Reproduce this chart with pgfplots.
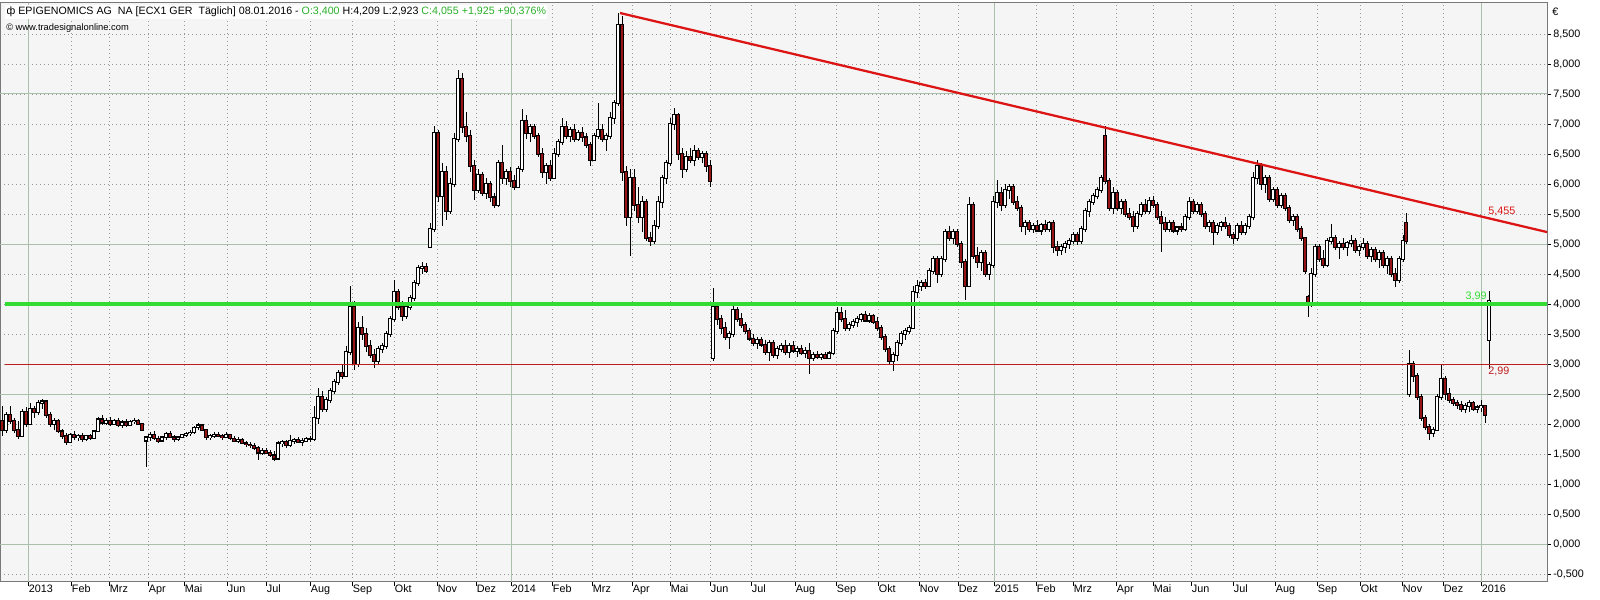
\documentclass[border=0pt]{standalone}
\usepackage{fontspec}
\setmainfont{Liberation Sans}
\usepackage{pgfplots}
\usepackage{pgfplotstable}
\pgfplotsset{compat=1.18}
\definecolor{bg}{RGB}{245,245,245}
\definecolor{gridsolid}{RGB}{170,192,170}
\definecolor{griddot}{RGB}{150,150,150}
\definecolor{bear}{RGB}{150,20,20}
\definecolor{trend}{RGB}{220,20,20}
\definecolor{supp}{RGB}{50,220,50}
\definecolor{resred}{RGB}{190,30,30}
\definecolor{hdrgreen}{RGB}{40,175,40}
\definecolor{frame}{RGB}{120,120,120}

\pgfplotstableread{
x o h l c
2 2.05 2.30 1.80 1.90
6 1.90 2.20 1.85 2.15
10 2.15 2.30 2.00 2.05
14 2.05 2.10 1.85 1.90
18 1.90 2.05 1.75 1.80
22 1.80 2.25 1.78 2.20
26 2.20 2.28 1.95 2.00
30 2.00 2.35 1.98 2.25
34 2.25 2.30 2.10 2.20
38 2.20 2.40 2.15 2.35
42 2.35 2.42 2.25 2.38
46 2.38 2.40 2.10 2.15
50 2.15 2.20 1.95 2.00
54 2.00 2.10 1.90 2.05
58 2.05 2.08 1.85 1.88
62 1.88 1.92 1.75 1.80
66 1.80 1.85 1.65 1.70
70 1.70 1.85 1.68 1.82
74 1.82 1.88 1.74 1.78
78 1.78 1.84 1.72 1.80
82 1.80 1.85 1.70 1.74
86 1.74 1.82 1.72 1.80
90 1.80 1.84 1.74 1.76
94 1.76 1.90 1.75 1.88
98 1.88 2.12 1.86 2.08
102 2.08 2.15 1.98 2.02
106 2.02 2.10 1.98 2.06
110 2.06 2.12 1.96 2.00
114 2.00 2.08 1.98 2.05
118 2.05 2.10 1.95 1.98
122 1.98 2.06 1.94 2.03
126 2.03 2.08 1.95 1.98
130 1.98 2.06 1.96 2.04
134 2.04 2.10 2.00 2.06
138 2.06 2.08 1.98 2.00
142 2.00 2.02 1.88 1.90
146 1.72 1.80 1.29 1.78
150 1.78 1.86 1.72 1.82
154 1.82 1.88 1.74 1.76
158 1.76 1.80 1.68 1.72
162 1.72 1.80 1.70 1.78
166 1.78 1.86 1.74 1.84
170 1.84 1.88 1.76 1.78
174 1.78 1.82 1.70 1.74
178 1.74 1.80 1.72 1.78
182 1.78 1.84 1.76 1.82
186 1.82 1.86 1.78 1.84
190 1.84 1.90 1.80 1.86
194 1.86 1.96 1.84 1.94
198 1.94 2.02 1.90 1.98
202 1.98 2.00 1.88 1.90
206 1.90 1.92 1.74 1.78
210 1.78 1.84 1.74 1.80
214 1.80 1.86 1.76 1.82
218 1.82 1.86 1.78 1.80
222 1.80 1.84 1.74 1.78
226 1.78 1.86 1.76 1.82
230 1.82 1.84 1.74 1.76
234 1.76 1.80 1.70 1.72
238 1.72 1.78 1.68 1.74
242 1.74 1.76 1.66 1.68
246 1.68 1.72 1.62 1.66
250 1.66 1.70 1.60 1.64
254 1.64 1.68 1.56 1.60
258 1.60 1.64 1.40 1.52
262 1.52 1.60 1.48 1.56
266 1.56 1.60 1.50 1.52
270 1.52 1.56 1.45 1.48
274 1.48 1.55 1.38 1.42
278 1.42 1.72 1.40 1.68
282 1.68 1.74 1.62 1.70
286 1.70 1.74 1.60 1.64
290 1.64 1.82 1.62 1.72
294 1.72 1.76 1.66 1.74
298 1.74 1.78 1.68 1.70
302 1.70 1.76 1.64 1.72
306 1.72 1.78 1.70 1.75
310 1.75 1.80 1.70 1.74
314 1.74 2.30 1.72 2.10
318 2.10 2.60 2.00 2.45
322 2.45 2.55 2.20 2.25
326 2.25 2.45 2.20 2.40
330 2.40 2.60 2.35 2.55
334 2.55 2.75 2.50 2.70
338 2.70 2.90 2.65 2.85
342 2.85 3.00 2.75 2.80
346 2.80 3.30 2.78 3.20
350 3.20 4.30 3.15 3.95
354 3.95 4.05 2.90 3.00
358 3.00 3.70 2.95 3.60
362 3.60 3.80 3.40 3.50
366 3.50 3.60 3.20 3.30
370 3.30 3.40 3.10 3.15
374 3.15 3.25 2.94 3.05
378 3.05 3.30 3.00 3.25
382 3.25 3.35 3.18 3.30
386 3.30 3.55 3.25 3.50
390 3.50 3.80 3.45 3.75
394 3.75 4.40 3.70 4.20
398 4.20 4.25 3.90 3.95
402 3.95 4.05 3.72 3.80
406 3.80 4.00 3.75 3.95
410 3.95 4.15 3.90 4.10
414 4.10 4.40 4.05 4.35
418 4.35 4.65 4.30 4.60
422 4.60 4.70 4.50 4.62
426 4.62 4.68 4.52 4.55
430 4.95 5.35 4.93 5.25
434 5.25 6.97 5.20 6.85
438 6.85 6.90 5.70 5.80
442 5.80 6.35 5.30 6.20
446 6.20 6.30 5.40 5.55
450 5.55 6.10 5.50 6.00
454 6.00 6.85 5.95 6.75
458 6.75 7.90 6.70 7.75
462 7.75 7.85 6.85 6.95
466 6.95 7.20 6.70 6.80
470 6.80 6.90 6.20 6.30
474 6.30 6.40 5.73 5.90
478 5.90 6.25 5.85 6.15
482 6.15 6.20 5.80 5.85
486 5.85 6.10 5.75 6.00
490 6.00 6.05 5.70 5.78
494 5.78 5.85 5.60 5.65
498 5.65 6.40 5.62 6.35
502 6.35 6.65 6.00 6.10
506 6.10 6.25 5.98 6.20
510 6.20 6.28 5.95 6.05
514 6.05 6.15 5.90 5.95
518 5.95 6.30 5.93 6.25
522 6.25 7.25 6.20 7.05
526 7.05 7.15 6.75 6.85
530 6.85 7.00 6.70 6.95
534 6.95 7.00 6.75 6.80
538 6.80 6.85 6.45 6.50
542 6.50 6.60 6.10 6.20
546 6.20 6.35 6.00 6.30
550 6.30 6.40 6.05 6.10
554 6.10 6.60 6.08 6.50
558 6.50 6.75 6.45 6.70
562 6.70 7.10 6.65 6.95
566 6.95 7.05 6.75 6.80
570 6.80 6.95 6.70 6.90
574 6.90 7.00 6.70 6.75
578 6.75 6.90 6.72 6.85
582 6.85 6.95 6.70 6.78
586 6.78 6.85 6.60 6.65
590 6.65 6.70 6.30 6.40
594 6.40 6.85 6.38 6.80
598 6.80 7.35 6.75 6.90
602 6.90 7.00 6.70 6.75
606 6.75 6.85 6.55 6.80
610 6.80 7.20 6.75 7.10
614 7.10 7.40 7.00 7.35
618 7.35 8.85 7.30 8.65
622 8.65 8.80 6.05 6.20
626 6.20 6.30 5.30 5.45
630 5.45 6.25 4.80 6.10
634 6.10 6.25 5.55 5.65
638 5.65 5.95 5.35 5.45
642 5.45 5.80 5.20 5.70
646 5.70 5.75 5.05 5.10
650 5.10 5.20 4.96 5.05
654 5.05 5.40 5.00 5.30
658 5.30 5.80 5.25 5.70
662 5.70 6.15 5.60 6.10
666 6.10 6.40 6.00 6.35
670 6.35 7.10 6.30 7.00
674 7.00 7.26 6.90 7.15
678 7.15 7.18 6.40 6.50
682 6.50 6.60 6.10 6.25
686 6.25 6.55 6.20 6.45
690 6.45 6.60 6.35 6.40
694 6.40 6.65 6.30 6.55
698 6.55 6.60 6.40 6.45
702 6.45 6.55 6.35 6.50
706 6.50 6.55 6.20 6.30
710 6.30 6.40 5.95 6.05
713 3.10 4.26 3.05 3.95
717 3.95 4.00 3.65 3.75
721 3.75 3.82 3.50 3.60
725 3.60 3.70 3.40 3.45
729 3.45 3.55 3.25 3.50
733 3.50 4.00 3.45 3.90
737 3.90 3.95 3.70 3.75
741 3.75 3.85 3.60 3.65
745 3.65 3.70 3.50 3.55
749 3.55 3.60 3.38 3.42
753 3.42 3.50 3.30 3.35
757 3.35 3.45 3.25 3.40
761 3.40 3.45 3.28 3.32
765 3.32 3.40 3.15 3.20
769 3.20 3.40 3.05 3.35
773 3.35 3.40 3.10 3.15
777 3.15 3.30 3.08 3.25
781 3.25 3.35 3.20 3.30
785 3.30 3.40 3.15 3.20
789 3.20 3.35 3.10 3.30
793 3.30 3.38 3.18 3.22
797 3.22 3.30 3.12 3.25
801 3.25 3.32 3.15 3.18
805 3.18 3.28 3.10 3.22
809 3.22 3.35 2.84 3.10
813 3.10 3.20 3.05 3.15
817 3.15 3.22 3.08 3.12
821 3.12 3.18 3.06 3.15
825 3.15 3.20 3.08 3.10
829 3.10 3.22 3.08 3.18
833 3.18 3.60 3.15 3.55
837 3.55 3.95 3.50 3.85
841 3.85 3.95 3.70 3.75
845 3.75 3.90 3.55 3.60
849 3.60 3.70 3.55 3.65
853 3.65 3.75 3.60 3.70
857 3.70 3.80 3.62 3.75
861 3.75 3.85 3.70 3.82
865 3.82 3.88 3.70 3.72
869 3.72 3.85 3.68 3.80
873 3.80 3.84 3.66 3.70
877 3.70 3.78 3.55 3.60
881 3.60 3.65 3.40 3.45
885 3.45 3.50 3.20 3.25
889 3.25 3.30 3.00 3.05
893 3.05 3.20 2.88 3.15
897 3.15 3.40 3.05 3.35
901 3.35 3.55 3.30 3.50
905 3.50 3.60 3.40 3.55
909 3.55 3.65 3.50 3.60
913 3.60 4.30 3.58 4.20
917 4.20 4.40 4.10 4.30
921 4.30 4.40 4.22 4.35
925 4.35 4.42 4.25 4.30
929 4.30 4.60 4.28 4.55
933 4.55 4.80 4.50 4.75
937 4.75 4.80 4.35 4.50
941 4.50 4.80 4.45 4.75
945 4.75 5.25 4.70 5.20
949 5.20 5.30 5.05 5.10
953 5.10 5.25 5.00 5.20
957 5.20 5.25 4.95 5.00
961 5.00 5.05 4.60 4.70
965 4.70 4.75 4.07 4.30
969 4.30 5.79 4.28 5.65
973 5.65 5.70 4.75 4.80
977 4.80 4.95 4.60 4.70
981 4.70 4.90 4.55 4.85
985 4.85 4.90 4.45 4.50
989 4.50 4.70 4.40 4.65
993 4.65 5.80 4.60 5.70
997 5.70 6.07 5.60 5.85
1001 5.85 5.95 5.55 5.65
1005 5.65 6.00 5.60 5.90
1009 5.90 6.00 5.75 5.95
1013 5.95 6.00 5.65 5.70
1017 5.70 5.80 5.55 5.60
1021 5.60 5.65 5.20 5.30
1025 5.30 5.40 5.15 5.35
1029 5.35 5.40 5.20 5.25
1033 5.25 5.35 5.18 5.30
1037 5.30 5.40 5.20 5.22
1041 5.22 5.35 5.15 5.32
1045 5.32 5.40 5.20 5.25
1049 5.25 5.38 5.20 5.35
1053 5.35 5.40 4.85 4.95
1057 4.95 5.05 4.80 4.90
1061 4.90 5.00 4.82 4.95
1065 4.95 5.05 4.85 5.00
1069 5.00 5.10 4.92 5.05
1073 5.05 5.20 5.00 5.15
1077 5.15 5.20 4.98 5.05
1081 5.05 5.30 5.00 5.25
1085 5.25 5.60 5.20 5.55
1089 5.55 5.75 5.45 5.70
1093 5.70 5.85 5.65 5.80
1097 5.80 5.95 5.75 5.90
1101 5.90 6.15 5.85 6.10
1105 6.80 6.96 6.00 6.05
1109 6.05 6.10 5.55 5.60
1113 5.60 5.95 5.50 5.85
1117 5.85 5.90 5.55 5.60
1121 5.60 5.75 5.50 5.70
1125 5.70 5.75 5.45 5.50
1129 5.50 5.60 5.40 5.45
1133 5.45 5.55 5.20 5.30
1137 5.30 5.55 5.25 5.50
1141 5.50 5.70 5.45 5.65
1145 5.65 5.75 5.50 5.55
1149 5.55 5.78 5.50 5.72
1153 5.72 5.80 5.60 5.65
1157 5.65 5.70 5.40 5.45
1161 5.45 5.55 4.87 5.35
1165 5.35 5.45 5.20 5.25
1169 5.25 5.40 5.20 5.35
1173 5.35 5.40 5.18 5.22
1177 5.22 5.30 5.15 5.28
1181 5.28 5.35 5.20 5.25
1185 5.25 5.50 5.22 5.45
1189 5.45 5.78 5.40 5.70
1193 5.70 5.75 5.50 5.55
1197 5.55 5.70 5.50 5.65
1201 5.65 5.70 5.45 5.50
1205 5.50 5.55 5.25 5.30
1209 5.30 5.40 5.20 5.35
1213 5.35 5.40 4.98 5.20
1217 5.20 5.35 5.15 5.30
1221 5.30 5.38 5.22 5.35
1225 5.35 5.45 5.25 5.30
1229 5.30 5.35 5.10 5.15
1233 5.15 5.20 5.00 5.10
1237 5.10 5.35 5.05 5.30
1241 5.30 5.38 5.15 5.20
1245 5.20 5.35 5.15 5.30
1249 5.30 5.50 5.25 5.45
1253 5.45 6.20 5.40 6.10
1257 6.10 6.40 6.00 6.30
1261 6.30 6.35 5.90 6.00
1265 6.00 6.15 5.85 6.10
1269 6.10 6.15 5.70 5.75
1273 5.75 5.95 5.70 5.90
1277 5.90 5.95 5.60 5.65
1281 5.65 5.85 5.60 5.80
1285 5.80 5.85 5.55 5.60
1289 5.60 5.65 5.35 5.40
1293 5.40 5.50 5.30 5.45
1297 5.45 5.50 5.20 5.25
1301 5.25 5.30 5.05 5.10
1305 5.10 5.12 4.50 4.55
1308 4.12 4.15 3.79 3.98
1311 3.98 4.60 3.95 4.50
1315 4.50 5.00 4.45 4.95
1319 4.95 5.00 4.70 4.75
1323 4.75 4.90 4.60 4.65
1327 4.65 5.10 4.62 5.05
1331 5.05 5.34 5.00 5.10
1335 5.10 5.15 4.90 4.95
1339 4.95 5.05 4.75 5.00
1343 5.00 5.10 4.90 4.95
1347 4.95 5.05 4.80 5.02
1351 5.02 5.15 4.95 5.05
1355 5.05 5.10 4.85 4.90
1359 4.90 5.00 4.80 4.95
1363 4.95 5.10 4.90 5.00
1367 5.00 5.05 4.75 4.80
1371 4.80 4.95 4.70 4.90
1375 4.90 4.95 4.70 4.75
1379 4.75 4.90 4.60 4.85
1383 4.85 4.90 4.60 4.65
1387 4.65 4.80 4.50 4.75
1391 4.75 4.80 4.45 4.50
1395 4.50 4.60 4.29 4.40
1399 4.40 4.80 4.35 4.75
1403 4.75 5.15 4.70 5.05
1406 5.35 5.51 5.00 5.05
1409 2.50 3.23 2.45 3.00
1413 3.00 3.05 2.70 2.80
1417 2.80 2.85 2.40 2.45
1421 2.45 2.50 2.05 2.10
1425 2.10 2.15 1.90 1.95
1429 1.95 2.00 1.73 1.85
1433 1.85 1.95 1.78 1.90
1437 1.90 2.50 1.88 2.45
1441 2.45 2.99 2.40 2.75
1445 2.75 2.80 2.40 2.50
1449 2.50 2.60 2.35 2.40
1453 2.40 2.45 2.30 2.35
1457 2.35 2.40 2.25 2.32
1461 2.32 2.38 2.20 2.25
1465 2.25 2.35 2.18 2.30
1469 2.30 2.40 2.20 2.35
1473 2.35 2.38 2.22 2.25
1477 2.25 2.32 2.18 2.28
1481 2.28 2.40 2.20 2.30
1485 2.30 2.32 2.01 2.15
1489 3.40 4.209 2.923 4.055
}\ohlc

\begin{document}
\begin{tikzpicture}[x=0.75pt,y=0.75pt]
\useasboundingbox (0,0) rectangle (1600,600);
\begin{axis}[
  at={(0pt,13.5pt)}, anchor=south west,
  width=1160.25pt, height=434.25pt, scale only axis,
  xmin=0, xmax=1547, ymin=-0.6333, ymax=9.0167,
  axis background/.style={fill=bg},
  axis line style={draw=frame, line width=0.75pt},
  ytick={-0.5,0,...,8.5},
  xtick={28,71,109,148,184,227,266,310,352,394,437,476,511,552,592,632,670,710,751,795,836,878,919,958,994,1036,1073,1116,1153,1191,1233,1275,1317,1360,1402,1443,1481},
  xticklabels={2013,Feb,Mrz,Apr,Mai,Jun,Jul,Aug,Sep,Okt,Nov,Dez,2014,Feb,Mrz,Apr,Mai,Jun,Jul,Aug,Sep,Okt,Nov,Dez,2015,Feb,Mrz,Apr,Mai,Jun,Jul,Aug,Sep,Okt,Nov,Dez,2016},
  extra x ticks={28,511,994,1481},
  extra x tick labels={},
  extra x tick style={xmajorgrids=true, major grid style={solid, draw=gridsolid, line width=0.75pt}, major tick length=0pt},
  extra y ticks={0,2.5,5,7.5},
  extra y tick labels={},
  extra y tick style={ymajorgrids=true, major grid style={solid, draw=gridsolid, line width=0.75pt}, major tick length=0pt},
  xmajorgrids, ymajorgrids,
  major grid style={draw=griddot, line width=0.6pt, dash pattern=on 0.6pt off 2.4pt},
  tick align=outside,
  major tick length=3pt,
  tick style={draw=black, line width=0.5pt},
  xtick pos=bottom, ytick pos=right, yticklabel pos=right,
  /pgf/number format/.cd, fixed, fixed zerofill, precision=3, use comma, 1000 sep={}, assume math mode=true,
  /pgfplots/.cd,
  yticklabel style={font=\fontsize{8.1}{9}\selectfont, anchor=west, inner sep=0pt, xshift=1.5pt},
  xticklabel style={font=\fontsize{8.1}{9}\selectfont, anchor=north west, inner sep=0pt, xshift=0.5pt, yshift=1pt},
  clip=true,
]
% wicks
\addplot[draw=none, mark=none, forget plot,
  error bars/.cd, y dir=both, y explicit, error mark=none,
  error bar style={draw=black, line width=0.75pt}]
  table[x=x, y=c, y error plus expr={\thisrow{h}-\thisrow{c}}, y error minus expr={\thisrow{c}-\thisrow{l}}] {\ohlc};
% body outlines
\addplot[draw=none, mark=none, forget plot,
  error bars/.cd, y dir=both, y explicit, error mark=none,
  error bar style={draw=black, line width=2.9pt}]
  table[x=x, y expr={(\thisrow{o}+\thisrow{c})/2}, y error expr={abs(\thisrow{c}-\thisrow{o})/2+0.012}] {\ohlc};
% up bodies (zero length for down candles)
\addplot[draw=none, mark=none, forget plot,
  error bars/.cd, y dir=both, y explicit, error mark=none,
  error bar style={draw=white, line width=1.5pt}]
  table[x=x, y expr={(\thisrow{o}+\thisrow{c})/2}, y error expr={max((\thisrow{c}-\thisrow{o})/2-0.006,0)}] {\ohlc};
% down bodies (zero length for up candles)
\addplot[draw=none, mark=none, forget plot,
  error bars/.cd, y dir=both, y explicit, error mark=none,
  error bar style={draw=bear, line width=1.5pt}]
  table[x=x, y expr={(\thisrow{o}+\thisrow{c})/2}, y error expr={max((\thisrow{o}-\thisrow{c})/2-0.006,0)}] {\ohlc};
% lines
\addplot[draw=supp, line width=2.4pt, mark=none] coordinates {(5,4.0) (1547,4.0)};
\addplot[draw=resred, line width=0.9pt, mark=none] coordinates {(5,2.99) (1547,2.99)};
\addplot[draw=trend, line width=1.7pt, mark=none] coordinates {(620,8.85) (1547,5.199)};
\node[anchor=south west, inner sep=0pt, text=trend, font=\fontsize{8.1}{9}\selectfont] at (axis cs:1488,5.47) {5,455};
\node[anchor=south east, inner sep=0pt, text=supp, font=\fontsize{8.1}{9}\selectfont] at (axis cs:1487,4.04) {3,99};
\node[anchor=north west, inner sep=0pt, text=resred, font=\fontsize{8.1}{9}\selectfont] at (axis cs:1488,2.95) {2,99};
\end{axis}
% header
\node[anchor=base west, fill=white, inner xsep=1pt, inner ysep=1.5pt, font=\fontsize{8}{9}\selectfont] at (5,585)
 {ф EPIGENOMICS AG\ \ NA [ECX1 GER\ \ Täglich] 08.01.2016 - \textcolor{hdrgreen}{O:3,400} H:4,209 L:2,923 \textcolor{hdrgreen}{C:4,055 +1,925 +90,376\%}};
\node[anchor=base west, inner sep=0pt, font=\fontsize{7}{8}\selectfont] at (6,569) {© www.tradesignalonline.com};
\node[anchor=base west, inner sep=0pt, font=\fontsize{8.1}{9}\selectfont] at (1552,584) {€};
\end{tikzpicture}
\end{document}
